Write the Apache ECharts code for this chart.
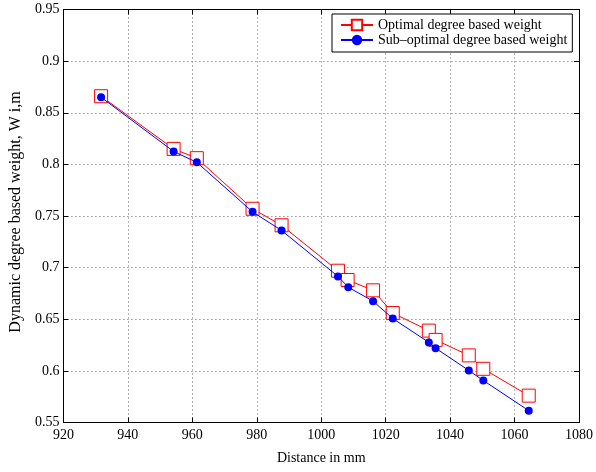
<!DOCTYPE html>
<html>
<head>
<meta charset="utf-8">
<script src="https://cdn.jsdelivr.net/npm/echarts@6/dist/echarts.min.js"></script>
<style>html,body{margin:0;padding:0;background:#fff}#c{width:596px;height:472px}</style>
</head>
<body>
<div id="c"></div>
<script>
const optX = [931.7, 954.2, 961.4, 978.7, 987.7, 1005.2, 1008.2, 1016.1, 1022.2, 1033.4, 1035.5, 1045.8, 1050.3, 1064.4];
const optY = [0.866, 0.815, 0.806, 0.757, 0.741, 0.697, 0.688, 0.678, 0.656, 0.639, 0.630, 0.615, 0.602, 0.576];
const subX = [931.7, 954.2, 961.4, 978.7, 987.7, 1005.2, 1008.4, 1016.1, 1022.2, 1033.4, 1035.5, 1045.8, 1050.3, 1064.4];
const subY = [0.865, 0.8125, 0.802, 0.754, 0.736, 0.6915, 0.681, 0.6675, 0.6507, 0.6276, 0.622, 0.6004, 0.5907, 0.5615];
const seriesNames = ['Optimal degree based weight', 'Sub\u2013optimal degree based weight'];

const chart = echarts.init(document.getElementById('c'), null, {renderer: 'canvas'});
const font = 'Liberation Serif';
const axisCommon = {
  axisLine: {show: true, onZero: false, lineStyle: {color: '#000', width: 1}},
  axisTick: {show: true, inside: true, length: 5, lineStyle: {color: '#000'}},
  splitLine: {show: true, lineStyle: {color: '#666', type: [1, 3], width: 1}}
};
const pair = (xs, ys) => xs.map((x, i) => [x, ys[i]]);
chart.setOption({
  animation: false,
  backgroundColor: '#fff',
  grid: {left: 55, right: 15, top: 9.5, bottom: 49.5, containLabel: false},
  legend: {
    show: true,
    left: 332, top: 14,
    orient: 'vertical',
    backgroundColor: '#fff',
    borderColor: '#000', borderWidth: 1, borderRadius: 0,
    padding: [4, 5, 5, 8],
    itemGap: 1,
    itemWidth: 32, itemHeight: 13,
    textStyle: {fontFamily: font, fontSize: 14, color: '#000'},
    data: seriesNames
  },
  xAxis: [
    Object.assign({}, axisCommon, {
      type: 'value', min: 920, max: 1080, interval: 20,
      name: 'Distance in mm', nameLocation: 'middle', nameGap: 29,
      nameTextStyle: {fontFamily: font, fontSize: 14, color: '#000'},
      axisLabel: {color: '#000', fontFamily: font, fontSize: 14, margin: 6, formatter: v => String(v)}
    }),
    Object.assign({}, axisCommon, {
      type: 'value', min: 920, max: 1080, interval: 20, position: 'top',
      axisLabel: {show: false}, splitLine: {show: false}
    })
  ],
  yAxis: [
    Object.assign({}, axisCommon, {
      type: 'value', min: 0.55, max: 0.95, interval: 0.05,
      name: 'Dynamic degree based weight, W i,m', nameLocation: 'middle', nameGap: 32,
      nameTextStyle: {fontFamily: font, fontSize: 16, color: '#000', padding: [0, 0, 0, 8]},
      axisLabel: {color: '#000', fontFamily: font, fontSize: 14, margin: 4,
        formatter: v => String(Math.round(v * 100) / 100)}
    }),
    Object.assign({}, axisCommon, {
      type: 'value', min: 0.55, max: 0.95, interval: 0.05, position: 'right',
      axisLabel: {show: false}, splitLine: {show: false}
    })
  ],
  series: [
    {
      name: seriesNames[0], type: 'line', data: pair(optX, optY),
      symbol: 'rect', symbolSize: 13,
      itemStyle: {color: '#fff', borderColor: '#ff0000', borderWidth: 1},
      lineStyle: {color: '#ff0000', width: 1},
      color: '#ff0000', z: 2
    },
    {
      name: seriesNames[1], type: 'line', data: pair(subX, subY),
      symbol: 'circle', symbolSize: 8,
      itemStyle: {color: '#0000ff', borderWidth: 0},
      lineStyle: {color: '#0000ff', width: 1},
      color: '#0000ff', z: 3
    }
  ]
});
</script>
</body>
</html>
